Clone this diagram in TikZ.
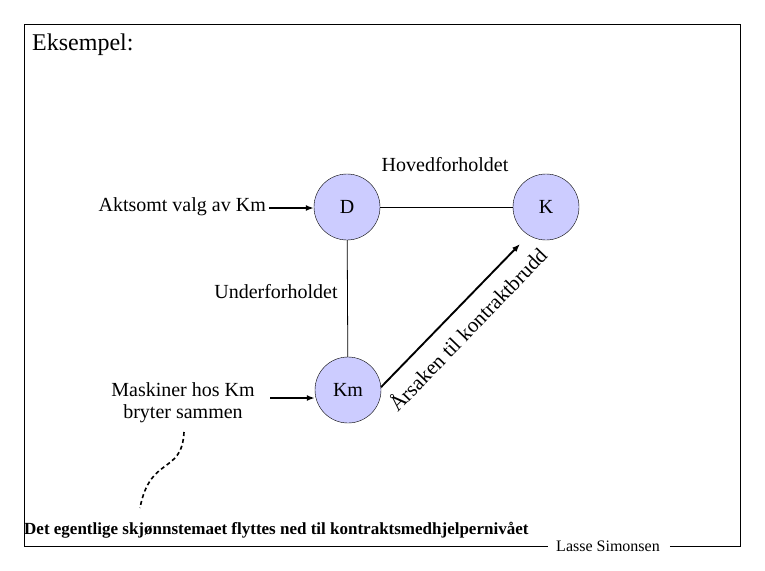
\documentclass[tikz,border=0pt]{standalone}
\usepackage{fontspec}
\setmainfont{Liberation Serif}
\usetikzlibrary{positioning,arrows.meta,calc}
\definecolor{palNode}{HTML}{CCCCFF}
\tikzset{
  partynode/.style={draw, circle, fill=palNode, minimum size=66pt, inner sep=0pt,
                    font=\fontsize{20}{22}\selectfont},
  lbltext/.style={font=\fontsize{20}{22}\selectfont, inner sep=0pt},
  linkline/.style={line width=0.8pt},
  causearrow/.style={-{Latex[length=8pt,width=6pt]}, line width=1.9pt},
  hintcurve/.style={dashed, dash pattern=on 4pt off 3pt, line width=1.6pt},
}
\begin{document}
\begin{tikzpicture}[x=1pt, y=-1pt]
\useasboundingbox (0,0) rectangle (765,570);

%% Frame with signature gap
\coordinate (frameTL) at (24,24);
\coordinate (frameTR) at (740,24);
\coordinate (frameBR) at (740,546);
\coordinate (frameBL) at (24,546);
\node[font=\fontsize{16}{18}\selectfont, inner sep=0pt] (sign) at (608,546) {Lasse Simonsen};
\draw[linkline] (sign.east) ++(10,0) coordinate (gapR) -- (frameBR) -- (frameTR) -- (frameTL)
  -- (frameBL) -- ($(sign.west)+(-8,0)$);
\node[font=\fontsize{24}{26}\selectfont, anchor=west, inner sep=0pt] (title) at (32,45) {Eksempel:};

%% Parties
\node[partynode] (D) at (347,207) {D};
\node[partynode] (K) at (546,207) {K};
\node[partynode] (Km) at (348,390) {Km};

\draw[linkline] (D) -- (K);
\draw[linkline] (D) -- (Km);
\node[lbltext] (hoved) at (445,165) {Hovedforholdet};
\node[lbltext] (under) at (276,292) {Underforholdet};

%% Inputs
\node[lbltext, anchor=east] (aktsomt) at (266,207) {Aktsomt valg av Km};
\draw[causearrow] (aktsomt.east) ++(3,1) coordinate (aktStart) -- (D.west |- aktStart);
\node[lbltext, align=center] (maskin) at (183,403) {Maskiner hos Km\\bryter sammen};
\coordinate (maskStart) at (270,398);
\draw[causearrow] (maskStart) -- (Km.west |- maskStart);

%% Cause of breach
\coordinate (causeEnd) at (520,244);
\draw[causearrow] (Km.5) -- (causeEnd);
\node[font=\fontsize{21}{23}\selectfont, inner sep=0pt, rotate=46] (aarsak) at (467,329)
  {Årsaken til kontraktbrudd};

%% Hint
\node[font=\fontsize{17}{19}\selectfont\bfseries, anchor=west, inner sep=0pt] (tema) at (24,530)
  {Det egentlige skjønnstemaet flyttes ned til kontraktsmedhjelpernivået};
\coordinate (hintTop) at (184,432);
\coordinate (hintBot) at (140,508);
\draw[hintcurve] (hintTop) .. controls (182,475) and (150,455) .. (hintBot);
\end{tikzpicture}
\end{document}
